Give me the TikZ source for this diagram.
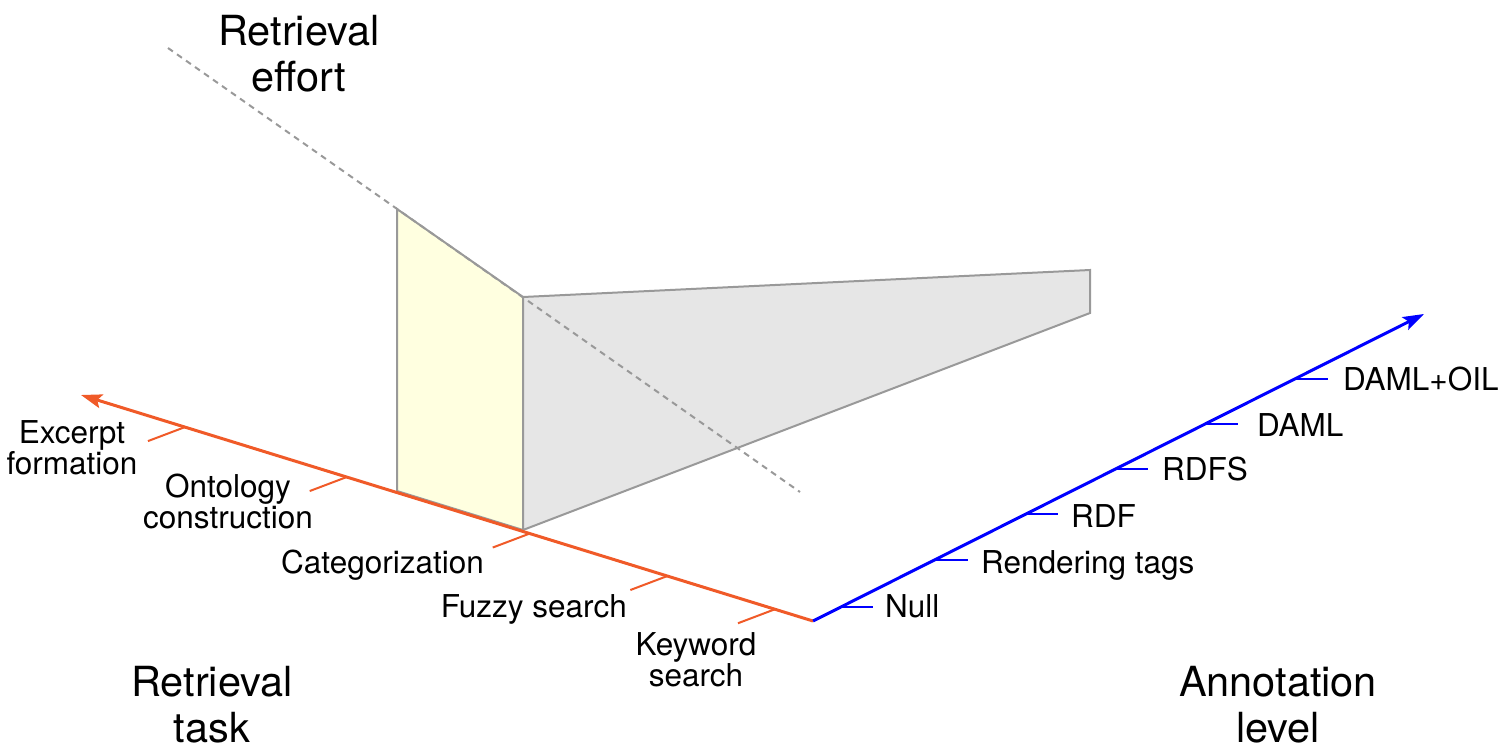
\documentclass[tikz,border=0pt]{standalone}
\usepackage{fontspec}
\setmainfont{TeX Gyre Heros}
\usetikzlibrary{calc,arrows.meta}
\definecolor{taskcol}{RGB}{240,90,40}
\definecolor{levelcol}{RGB}{0,0,255}
\definecolor{edgegrey}{RGB}{153,153,153}
\definecolor{paleyellow}{RGB}{255,255,224}
\definecolor{palegrey}{RGB}{230,230,230}
\newcommand\lblfont{\fontsize{31.5}{31}\selectfont}
\newcommand\axisfont{\fontsize{41.5}{46}\selectfont}
\tikzset{
  face/.style={draw=edgegrey, line width=2pt, line join=miter},
  effortaxis/.style={draw=edgegrey, line width=2pt, dash pattern=on 6pt off 5pt},
  taskaxis/.style={draw=taskcol, line width=3pt, -{Stealth[length=21pt,width=14pt,inset=4pt]}},
  levelaxis/.style={draw=levelcol, line width=3pt, -{Stealth[length=21pt,width=14pt,inset=4pt]}},
  tasktick/.style={draw=taskcol, line width=2pt},
  leveltick/.style={draw=levelcol, line width=2pt},
  lbl/.style={inner sep=0pt, font=\lblfont, align=center},
  axislbl/.style={inner sep=0pt, font=\axisfont, align=center}
}
\begin{document}
\begin{tikzpicture}[x=1pt,y=-1pt]
\useasboundingbox (0,0) rectangle (1505,753);

% axes end points
\coordinate (O) at (813,621);
\coordinate (T) at (81,395);
\coordinate (A) at (1424,314);
\coordinate (E0) at (168,48);
\coordinate (E1) at (800,492);

% the two faces of the solid
\coordinate (p1) at (397,209);
\coordinate (p2) at (523,297);
\coordinate (p3) at (523,530);
\coordinate (p4) at (397,491);
\coordinate (q1) at (1090,270);
\coordinate (q2) at (1090,313);
\path[face, fill=paleyellow] (p1) -- (p2) -- (p3) -- (p4) -- cycle;
\path[face, fill=palegrey] (p2) -- (q1) -- (q2) -- (p3) -- cycle;

% retrieval effort axis
\path[effortaxis] (E0) -- (E1);

% retrieval task axis and its ticks
\path[taskaxis] (O) -- (T);
\foreach \f/\n in {0.052/k, 0.199/f, 0.387/c, 0.637/o, 0.858/e}{
  \coordinate (t\n) at ($(O)!\f!(T)$);
  \path[tasktick] (t\n) -- ++(-37,14);
}

% annotation level axis and its ticks
\path[levelaxis] (O) -- (A);
\foreach \f/\n in {0.044/a, 0.200/b, 0.347/c, 0.494/d, 0.642/e, 0.789/f}{
  \coordinate (l\n) at ($(O)!\f!(A)$);
  \path[leveltick] (l\n) -- ++(33,0);
}

% task labels (base = baseline of the last line)
\node[lbl, anchor=base] (ne) at (72,474) {Excerpt\\formation};
\node[lbl, anchor=base] (no) at (228,528) {Ontology\\construction};
\node[lbl, anchor=base east] (nc) at (484,573) {Categorization};
\node[lbl, anchor=base east] (nf) at (627,617) {Fuzzy search};
\node[lbl, anchor=base] (nk) at (696,686) {Keyword\\search};

% level labels
\node[lbl, anchor=base west] (ma) at (885,617) {Null};
\node[lbl, anchor=base west] (mb) at (981,573) {Rendering tags};
\node[lbl, anchor=base west] (mc) at (1071,527) {RDF};
\node[lbl, anchor=base west] (md) at (1162,480) {RDFS};
\node[lbl, anchor=base west] (me) at (1257,436) {DAML};
\node[lbl, anchor=base west] (mf) at (1343,390) {DAML+OIL};

% axis titles
\node[axislbl, anchor=base] (effort) at (299,91) {Retrieval\\effort};
\node[axislbl, anchor=base] (task) at (212,742) {Retrieval\\task};
\node[axislbl, anchor=base] (level) at (1278,742) {Annotation\\level};
\end{tikzpicture}
\end{document}
